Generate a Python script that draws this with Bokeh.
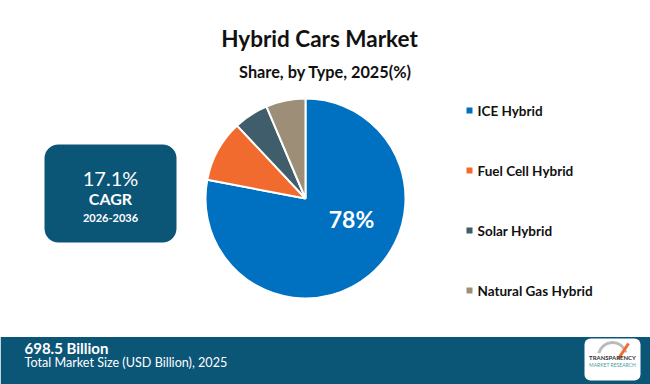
import math
from bokeh.plotting import figure
from bokeh.models import Range1d
from bokeh.core.properties import value
from bokeh.embed import file_html
from bokeh.resources import INLINE

# ---- data ----
categories = ["ICE Hybrid", "Fuel Cell Hybrid", "Solar Hybrid", "Natural Gas Hybrid"]
shares = [78, 10, 5.6, 6.4]
colors = ["#0070C0", "#F26B2E", "#3F5D6B", "#9D8F77"]
title_text = "Hybrid Cars Market"
subtitle_text = "Share, by Type, 2025(%)"
cagr_value = "17.1%"
cagr_label = "CAGR"
cagr_period = "2026-2036"
market_size = "698.5 Billion"
market_label = "Total Market Size (USD Billion), 2025"

W, H = 650, 384
p = figure(width=W, height=H, output_backend="svg", toolbar_location=None,
           x_range=Range1d(0, W), y_range=Range1d(0, H), min_border=0)
p.axis.visible = False
p.grid.visible = False
p.outline_line_color = None
p.background_fill_color = "white"
p.border_fill_color = "white"

def Y(py):
    return H - py

TF = "Lato"
DARK = "#0B5577"

# title
p.text(x=[319], y=[Y(38)], text=[title_text], text_font=value(TF), text_font_style="bold",
       text_font_size="22.5px", text_align="center", text_baseline="middle", text_color="#111111")
p.text(x=[325], y=[Y(71)], text=[subtitle_text], text_font=value(TF), text_font_style="bold",
       text_font_size="16.3px", text_align="center", text_baseline="middle", text_color="#111111")

# pie
cx, cy, r = 305, Y(198), 100
total = sum(shares)
cum = 0
starts, ends = [], []
for s in shares:
    a0 = math.pi / 2 - cum / total * 2 * math.pi
    cum += s
    a1 = math.pi / 2 - cum / total * 2 * math.pi
    starts.append(a0)
    ends.append(a1)
p.wedge(x=[cx] * 4, y=[cy] * 4, radius=r, start_angle=starts, end_angle=ends,
        direction="clock", fill_color=colors, line_color="white", line_width=2)
p.text(x=[cx + 46], y=[cy - 20], text=[f"{shares[0]:.0f}%"], text_font=value(TF),
       text_font_style="bold", text_font_size="23px", text_align="center",
       text_baseline="middle", text_color="white")

# legend
ly = [Y(110), Y(170), Y(230), Y(290)]
p.rect(x=[469] * 4, y=ly, width=6, height=6, fill_color=colors, line_color=None)
p.text(x=[477] * 4, y=ly, text=categories, text_font=value(TF), text_font_style="bold",
       text_font_size="13.5px", text_align="left", text_baseline="middle", text_color="#111111")

# CAGR box
p.rect(x=[110], y=[Y(193)], width=132, height=98, fill_color=DARK, line_color=None,
       border_radius=14)
p.text(x=[110], y=[Y(177)], text=[cagr_value], text_font=value(TF), text_font_size="20px",
       text_align="center", text_baseline="middle", text_color="white")
p.text(x=[110], y=[Y(198)], text=[cagr_label], text_font=value(TF), text_font_style="bold",
       text_font_size="16px", text_align="center", text_baseline="middle", text_color="white")
p.text(x=[110], y=[Y(217)], text=[cagr_period], text_font=value(TF), text_font_style="bold",
       text_font_size="11px", text_align="center", text_baseline="middle", text_color="white")

# bottom banner
p.quad(left=[0], right=[W], top=[Y(336.5)], bottom=[0], fill_color=DARK, line_color=None)
p.text(x=[24], y=[Y(347)], text=[market_size], text_font=value(TF), text_font_style="bold",
       text_font_size="15px", text_align="left", text_baseline="middle", text_color="white")
p.text(x=[24], y=[Y(362)], text=[market_label], text_font=value(TF),
       text_font_size="12.6px", text_align="left", text_baseline="middle", text_color="white")

# logo
p.rect(x=[612], y=[Y(359)], width=56, height=42, fill_color="white", line_color=None,
       border_radius=6)
p.arc(x=[612], y=[Y(356)], radius=14, start_angle=0.3, end_angle=2.9, line_color="#BBBBBB",
      line_width=3)
p.line(x=[618, 628], y=[Y(358), Y(343)], line_color="#F26B2E", line_width=3)
p.text(x=[612], y=[Y(357)], text=["TRANSPARENCY"], text_font=value(TF), text_font_style="bold",
       text_font_size="6px", text_align="center", text_baseline="middle", text_color="#333333")
p.text(x=[612], y=[Y(364)], text=["MARKET RESEARCH"], text_font=value(TF),
       text_font_size="5px", text_align="center", text_baseline="middle", text_color="#4AA0A0")

open("out.html", "w").write(file_html(p, INLINE))
